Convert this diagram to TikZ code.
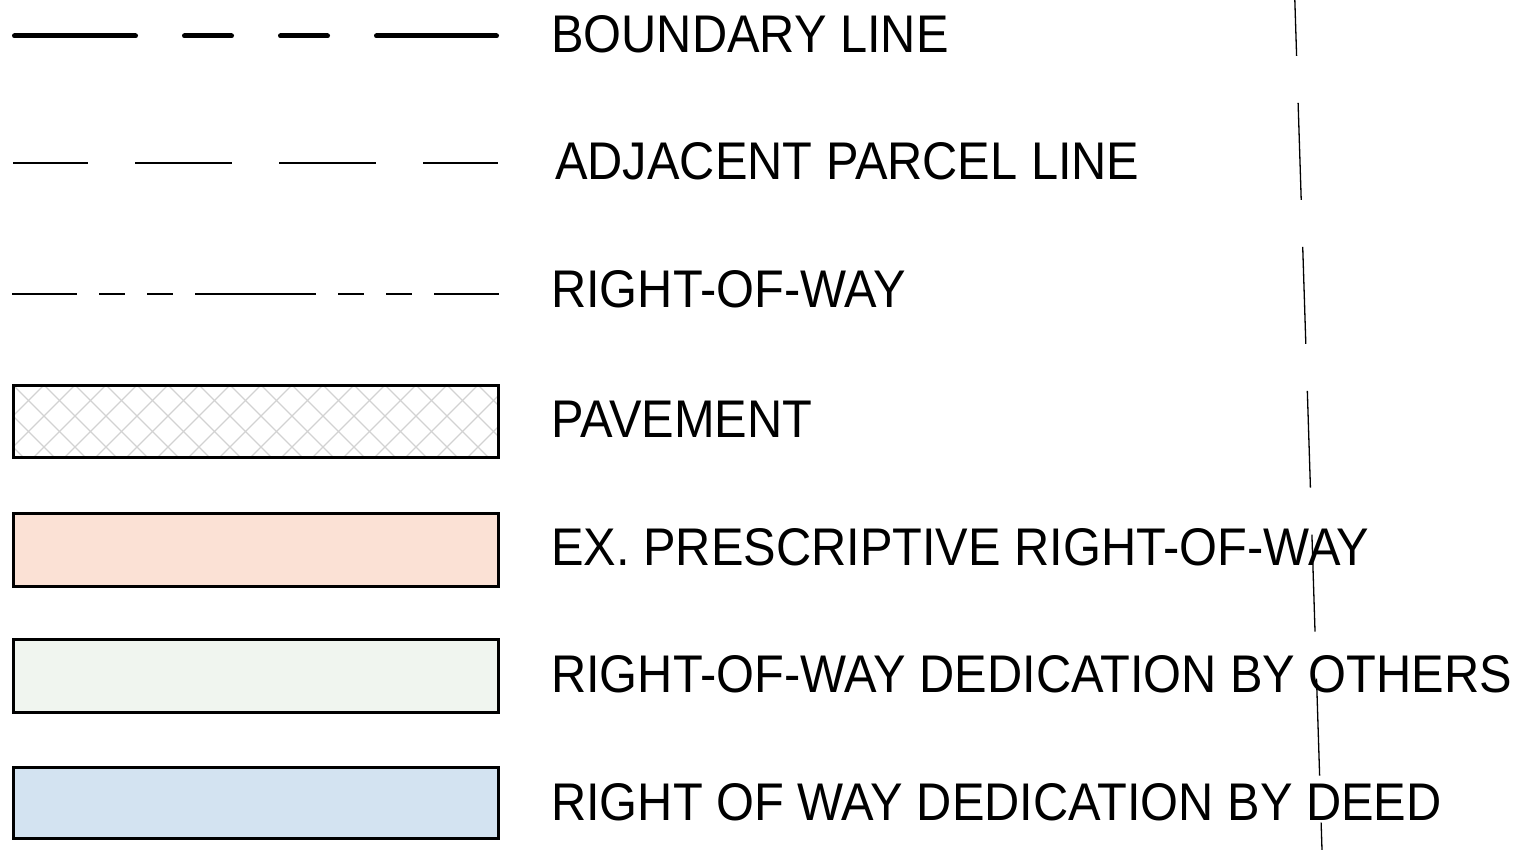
\documentclass[tikz,border=0pt]{standalone}
\usepackage{tikz,xcolor}
\usepackage{fontspec}
\setmainfont{Liberation Sans}[FakeStretch=0.92]

\definecolor{exrow}{HTML}{FBE1D5}
\definecolor{othersrow}{HTML}{F0F5EF}
\definecolor{deedrow}{HTML}{D3E3F1}
\definecolor{hatchgray}{HTML}{D2D2D2}

\tikzset{
	legendtext/.style={anchor=base west, inner sep=0pt},
	legendbox/.style={draw=black, line width=3pt}
}

\begin{document}
\begin{tikzpicture}[x=1pt, y=-1pt, font=\fontsize{53}{60}\selectfont]

	\useasboundingbox (0,0) rectangle (1520,850);

	% boundary line
	\foreach \a/\b in {12/138, 182/234, 278/330, 374/499}
		\draw[line width=5pt, line cap=round] (\a+2.5,36) -- (\b-2.5,36);
	\node[legendtext] (boundary) at (551,53) {BOUNDARY LINE};

	% adjacent parcel line
	\foreach \a/\b in {13/88, 135/232, 279/376, 423/498}
		\draw[line width=1.3pt] (\a,163) -- (\b,163);
	\node[legendtext] (adjacent) at (555,180) {ADJACENT PARCEL LINE};

	% right-of-way
	\foreach \a/\b in {12/77, 99/125, 147/173, 195/316, 338/364, 386/412, 434/499}
		\draw[line width=2.2pt] (\a,294) -- (\b,294);
	\node[legendtext] (row) at (551,308) {RIGHT-OF-WAY};

	% pavement, hatched
	\begin{scope}
		\clip (13,385) rectangle (498,457);
		\foreach \i in {-4,...,20} {
			\draw[hatchgray, line width=1.2pt] (13+31*\i,385) -- ++(100,100);
			\draw[hatchgray, line width=1.2pt] (13+31*\i,385) -- ++(-100,100);
		}
	\end{scope}
	\draw[legendbox] (13,385) rectangle (498,457);
	\node[legendtext] (pavement) at (551,437) {PAVEMENT};

	% filled areas
	\draw[legendbox, fill=exrow] (13,513) rectangle (498,586);
	\node[legendtext] (exrowtext) at (551,565) {EX. PRESCRIPTIVE RIGHT-OF-WAY};

	\draw[legendbox, fill=othersrow] (13,639) rectangle (498,712);
	\node[legendtext] (others) at (551,692) {RIGHT-OF-WAY DEDICATION BY OTHERS};

	\draw[legendbox, fill=deedrow] (13,767) rectangle (498,838);
	\node[legendtext] (deed) at (551,820) {RIGHT OF WAY DEDICATION BY DEED};

	% slanted line on the right
	\draw[line width=1.3pt, dash pattern=on 97pt off 47pt] (1293.5,-41) -- (1322,850);

\end{tikzpicture}
\end{document}
